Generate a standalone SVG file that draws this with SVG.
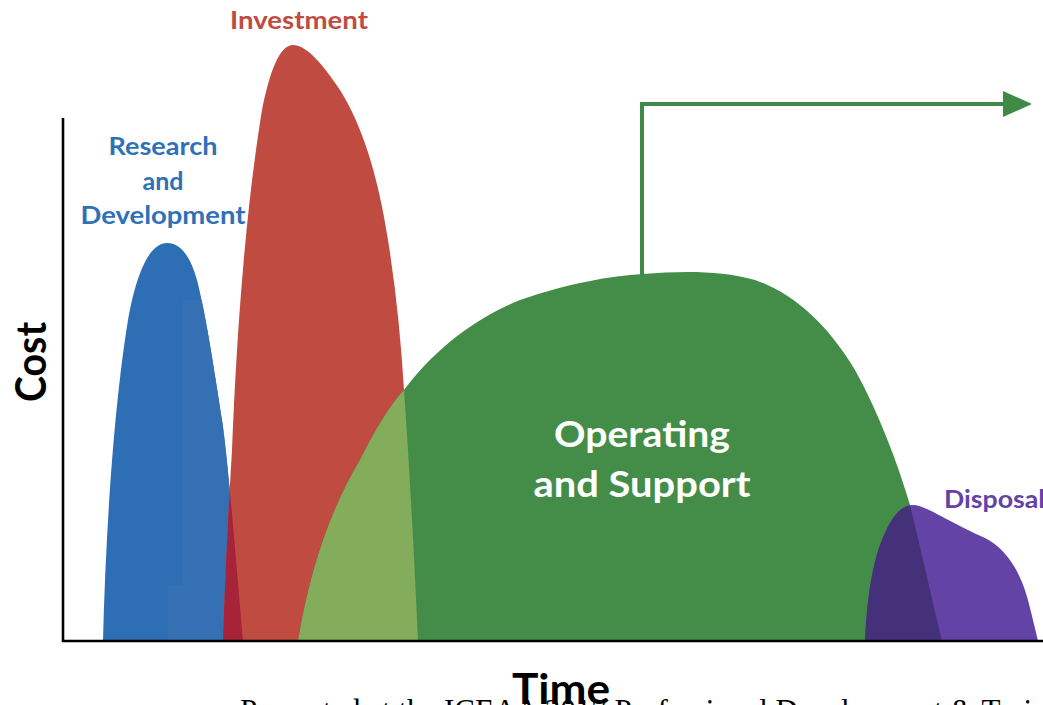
<svg xmlns="http://www.w3.org/2000/svg" width="1043" height="705" viewBox="0 0 1043 705">
<style>
.lbl{font-family:Lato,"Open Sans","Liberation Sans",sans-serif;font-weight:700}
.axis{stroke:#000;stroke-width:2.6;fill:none}
</style>
<defs>
<path id="pBlue" d="M103,641 C106,520 115,400 128,320 C138,265 152,243 167,243 C180,243 190,255 197,280 C206,315 215,375 222,420 C228,460 236,560 243,641 Z"/>
<path id="pRed" d="M223,641 C226,560 229,500 232,450 C236,350 244,220 262,110 C270,70 280,45 293,45 C305,45 320,60 340,90 C362,125 378,175 388,240 C396,290 401,340 404,390 C409,460 414,550 418,641 Z"/>
<path id="pGreen" d="M298,641 C310,570 330,510 360,460 C375,430 390,405 404,390 C430,355 470,320 520,300 C570,283 610,276 643,274 C680,271 720,270 755,280 C790,292 825,320 855,370 C880,415 898,465 910,505 C920,545 932,600 942,641 Z"/>
<path id="pPurple" d="M865,641 C867,600 872,560 885,533 C893,515 902,505 913,505 C925,505 945,520 985,538 C1005,548 1020,570 1028,600 C1033,620 1036,632 1038,641 Z"/>
<clipPath id="cBlue"><use href="#pBlue"/></clipPath>
<clipPath id="cRed"><use href="#pRed"/></clipPath>
<clipPath id="cGreen"><use href="#pGreen"/></clipPath>
<marker id="arr" markerUnits="userSpaceOnUse" markerWidth="30" markerHeight="26" refX="2" refY="13" orient="auto">
<path d="M0,0 L29,13 L0,26 Z" fill="#3F8B45"/>
</marker>
</defs>
<rect width="1043" height="705" fill="#fff"/>

<g id="rnd">
<use href="#pBlue" fill="#2E6EB4"/>
<path clip-path="url(#cBlue)" d="M183,300 L260,300 L260,641 L168,641 L168,585 L183,585 Z" fill="#3670B4"/>
<text class="lbl" x="163" y="155" font-size="25" fill="#2F71B6" text-anchor="middle" textLength="109" lengthAdjust="spacingAndGlyphs">Research</text>
<text class="lbl" x="163" y="190" font-size="25" fill="#2F71B6" text-anchor="middle">and</text>
<text class="lbl" x="163" y="224" font-size="25" fill="#2F71B6" text-anchor="middle" textLength="165" lengthAdjust="spacingAndGlyphs">Development</text>
</g>

<g id="investment">
<use href="#pRed" fill="#C04B41"/>
<use href="#pRed" clip-path="url(#cBlue)" fill="#A6233A"/>
<text class="lbl" x="299" y="29" font-size="25" fill="#C04B41" text-anchor="middle" textLength="138" lengthAdjust="spacingAndGlyphs">Investment</text>
</g>

<g id="operating">
<use href="#pGreen" fill="#438D48"/>
<use href="#pGreen" clip-path="url(#cRed)" fill="#83AC5B"/>
<text class="lbl" x="642" y="447" font-size="36" fill="#fff" text-anchor="middle" textLength="176" lengthAdjust="spacingAndGlyphs">Operating</text>
<text class="lbl" x="642" y="497" font-size="36" fill="#fff" text-anchor="middle" textLength="217" lengthAdjust="spacingAndGlyphs">and Support</text>
</g>

<g id="disposal">
<use href="#pPurple" fill="#6443A6"/>
<use href="#pPurple" clip-path="url(#cGreen)" fill="#45307A"/>
<text class="lbl" x="944" y="508" font-size="25" fill="#6443A6" textLength="101" lengthAdjust="spacingAndGlyphs">Disposal</text>
</g>

<g id="connectors">
<path d="M642,276 V104 H1005" fill="none" stroke="#3F8B45" stroke-width="4" marker-end="url(#arr)"/>
</g>

<g id="axes">
<line class="axis" x1="63" y1="118" x2="63" y2="642"/>
<line class="axis" x1="62" y1="641" x2="1043" y2="641"/>
<text class="lbl" x="0" y="0" font-size="42" fill="#000" text-anchor="middle" transform="translate(46,362) rotate(-90)" textLength="80" lengthAdjust="spacingAndGlyphs">Cost</text>
</g>

<g id="footer">
<text x="240" y="721" font-family="'Liberation Serif',serif" font-size="31" fill="#000">Presented at the ICEAA 2017 Professional Development &amp; Training Workshop</text>
<text class="lbl" x="561" y="704" font-size="42" fill="#000" text-anchor="middle" textLength="98" lengthAdjust="spacingAndGlyphs">Time</text>
</g>
</svg>
